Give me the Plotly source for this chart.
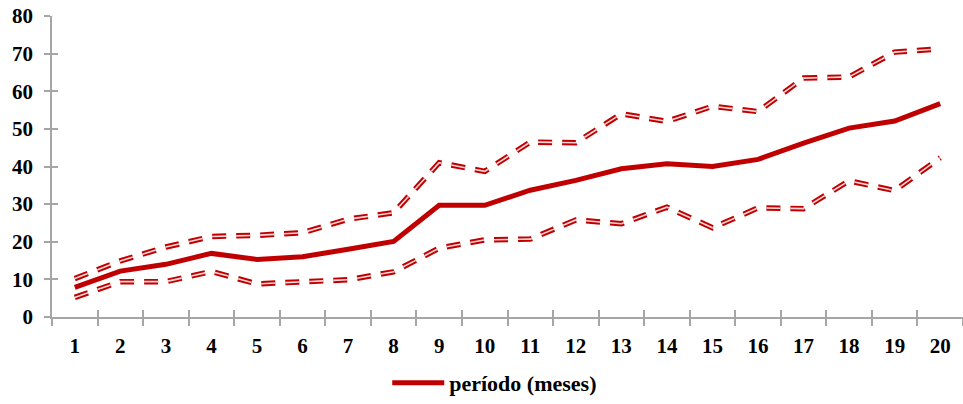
import plotly.graph_objects as go

meses = [str(i) for i in range(1, 21)]
media = [7.9, 12.2, 14.0, 16.9, 15.3, 16.0, 18.0, 20.1, 29.7, 29.7,
         33.7, 36.3, 39.4, 40.7, 40.0, 41.9, 46.2, 50.2, 52.1, 56.7]
superior = [10.2, 14.9, 18.6, 21.4, 21.7, 22.4, 26.0, 27.7, 41.0, 38.7,
            46.5, 46.3, 54.0, 52.0, 56.0, 54.6, 63.5, 63.8, 70.4, 71.3]
inferior = [5.2, 9.4, 9.4, 12.1, 8.8, 9.3, 9.9, 12.0, 18.3, 20.5,
            20.7, 25.8, 24.8, 29.2, 23.7, 29.0, 28.8, 36.2, 33.6, 42.3]
y_ticks = [0, 10, 20, 30, 40, 50, 60, 70, 80]

RED = "#C00000"
GRAY = "#A6A6A6"
FONT = "Liberation Serif"
DASH = "14px,10px"

fig = go.Figure()

for serie in (superior, inferior):
    fig.add_trace(go.Scatter(x=meses, y=serie, mode="lines",
                             line=dict(color=RED, width=5.5, dash=DASH),
                             showlegend=False, hoverinfo="skip"))
    fig.add_trace(go.Scatter(x=meses, y=serie, mode="lines",
                             line=dict(color="#F6D6D6", width=1.6, dash=DASH),
                             showlegend=False, hoverinfo="skip"))

fig.add_trace(go.Scatter(x=meses, y=media, mode="lines", name="período (meses)",
                         line=dict(color=RED, width=5)))

# invisible trace carrying the inner half of the cross tick marks
fig.add_trace(go.Scatter(x=meses, y=media, mode="lines", xaxis="x2", yaxis="y2",
                         line=dict(color="rgba(0,0,0,0)", width=0),
                         showlegend=False, hoverinfo="skip"))

axis_font = dict(family=FONT, size=21, color="black", weight="bold")

fig.update_layout(
    width=963, height=404,
    margin=dict(l=52, r=0, t=16, b=77),
    paper_bgcolor="white", plot_bgcolor="white",
    font=dict(family=FONT, size=21, color="black"),
    xaxis=dict(type="category", tickson="boundaries", ticks="outside", ticklen=7,
               tickwidth=1.5, tickcolor=GRAY, showline=True, linecolor=GRAY,
               linewidth=1.5, showgrid=False, tickfont=axis_font, ticklabelstandoff=9,
               range=[-0.5, 19.5], automargin=False),
    yaxis=dict(range=[0, 80], tickvals=y_ticks, ticks="outside", ticklen=6,
               tickwidth=1.5, tickcolor=GRAY, showline=True, linecolor=GRAY,
               linewidth=1.5, showgrid=False, zeroline=False, tickfont=axis_font,
               ticklabelstandoff=7, automargin=False, ticklabeloverflow="allow"),
    xaxis2=dict(type="category", overlaying="x", matches="x", tickson="boundaries",
                ticks="inside", ticklen=7, tickwidth=1.5, tickcolor=GRAY,
                showticklabels=False, showline=False, showgrid=False,
                range=[-0.5, 19.5], automargin=False),
    yaxis2=dict(overlaying="y", matches="y", range=[0, 80], tickvals=y_ticks,
                ticks="inside", ticklen=6, tickwidth=1.5, tickcolor=GRAY,
                showticklabels=False, showline=False, showgrid=False, zeroline=False,
                automargin=False),
    legend=dict(orientation="h", x=0.486, xanchor="center", y=-0.219, yanchor="middle",
                font=dict(family=FONT, size=22, color="black", weight="bold"),
                itemwidth=52, bgcolor="rgba(0,0,0,0)"),
    showlegend=True,
)

fig.write_html("out.html", config={"displayModeBar": False},
               post_script="document.body.style.margin='0px';")
